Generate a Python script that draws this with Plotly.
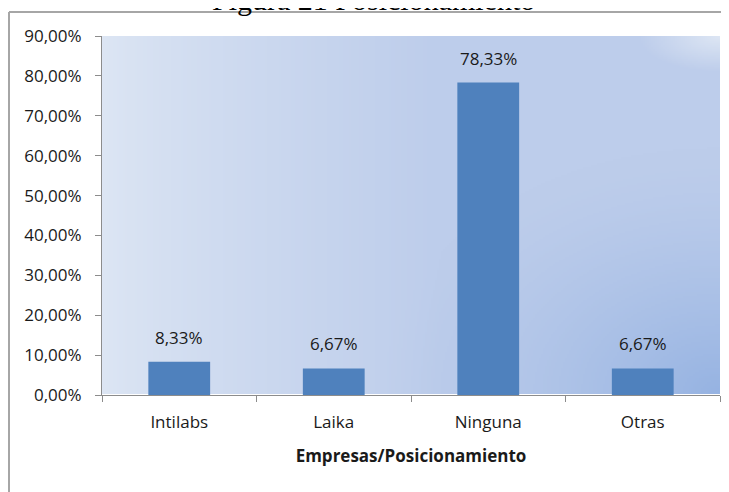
import base64, struct, zlib
import numpy as np
import plotly.graph_objects as go

categories = ["Intilabs", "Laika", "Ninguna", "Otras"]
values = [0.0833, 0.0667, 0.7833, 0.0667]
y_ticks = [0, 0.1, 0.2, 0.3, 0.4, 0.5, 0.6, 0.7, 0.8, 0.9]

# ---- gradient background image (styling only) ----
W, H = 309, 180
xx, yy = np.meshgrid(np.linspace(0, 1, W), np.linspace(0, 1, H))
light = np.array([221, 230, 244], float)
mid = np.array([189, 205, 235], float)
dark = np.array([150, 179, 226], float)
t = np.clip(xx / 0.55, 0, 1) ** 0.8
img = light[None, None, :] * (1 - t[..., None]) + mid[None, None, :] * t[..., None]
d = np.sqrt((xx - 1.0) ** 2 + ((yy - 1.0) * 0.8) ** 2)
w = np.clip(1 - d / 0.55, 0, 1) ** 1.5
img = img * (1 - w[..., None]) + dark[None, None, :] * w[..., None]
d2 = np.sqrt(((xx - 1.0) * 1.2) ** 2 + (yy * 1.6) ** 2)
w2 = np.clip(1 - d2 / 0.16, 0, 1)
img = img * (1 - w2[..., None]) + light[None, None, :] * w2[..., None]
img = np.clip(img, 0, 255).astype(np.uint8)

def png_bytes(arr):
    h, w_, _ = arr.shape
    raw = b"".join(b"\x00" + arr[r].tobytes() for r in range(h))
    def chunk(tag, data):
        c = struct.pack(">I", len(data)) + tag + data
        return c + struct.pack(">I", zlib.crc32(tag + data) & 0xFFFFFFFF)
    return (b"\x89PNG\r\n\x1a\n" + chunk(b"IHDR", struct.pack(">IIBBBBB", w_, h, 8, 2, 0, 0, 0))
            + chunk(b"IDAT", zlib.compress(raw, 9)) + chunk(b"IEND", b""))

bg_uri = "data:image/png;base64," + base64.b64encode(png_bytes(img)).decode()

FONT = "Open Sans, sans-serif"
TXT = "#1a1a1a"

fig = go.Figure(go.Bar(
    x=categories, y=values,
    marker=dict(color="#4F81BD", line=dict(width=0)),
    width=0.4,
))

# page has an 8px body margin; figure sized to fit the 729x492 window
OFF = 8
FW, FH = 729 - OFF, 492 - OFF
L, R, T, B = 94, 9, 28, 97
pw, ph = FW - L - R, FH - T - B

def px(x):  # x in page pixels
    return (x - OFF - L) / pw

def py(y):  # y in page pixels
    return (FH - B - (y - OFF)) / ph

annotations = [dict(text="Figura 21 Posicionamiento", xref="paper", yref="paper",
                    x=px(373), y=py(12), xanchor="center", yanchor="bottom", yshift=-6,
                    showarrow=False,
                    font=dict(family="Liberation Serif, Times New Roman, serif", size=30, color="black"))]
for c, v in zip(categories, values):
    annotations.append(dict(x=c, y=v, xref="x", yref="y", text=f"{v*100:.2f}%".replace(".", ","),
                            showarrow=False, yanchor="bottom", yshift=11,
                            font=dict(family=FONT, size=17, color=TXT)))

fig.update_layout(
    width=FW, height=FH,
    margin=dict(l=L, r=R, t=T, b=B, pad=0),
    paper_bgcolor="white", plot_bgcolor="rgba(0,0,0,0)",
    separators=",.",
    showlegend=False,
    images=[dict(source=bg_uri, xref="paper", yref="paper", x=0, y=1, sizex=1, sizey=1,
                 sizing="stretch", layer="below", xanchor="left", yanchor="top")],
    xaxis=dict(
        automargin=False,
        showgrid=False, showline=True, linecolor="#8c8c8c", linewidth=1,
        ticks="outside", tickson="boundaries", ticklen=6, tickcolor="#8c8c8c",
        ticklabelstandoff=12,
        tickfont=dict(family=FONT, size=17, color=TXT),
        title=dict(text="<b>Empresas/Posicionamiento</b>", standoff=17,
                   font=dict(family=FONT, size=17, color=TXT)),
    ),
    yaxis=dict(
        automargin=False,
        range=[0, 0.9], tickvals=y_ticks, tickformat=".2%",
        showgrid=False, showline=True, linecolor="#8c8c8c", linewidth=1,
        ticks="outside", ticklen=6, tickcolor="#8c8c8c",
        ticklabelstandoff=10,
        tickfont=dict(family=FONT, size=17, color=TXT),
    ),
    shapes=[
        dict(type="line", xref="paper", yref="paper", x0=px(9), x1=px(9), y0=py(12), y1=py(500),
             line=dict(color="#a6a6a6", width=2)),
        dict(type="line", xref="paper", yref="paper", x0=px(9), x1=px(740), y0=py(12), y1=py(12),
             line=dict(color="#a6a6a6", width=2)),
    ],
    annotations=annotations,
)

fig.write_html("out.html")
